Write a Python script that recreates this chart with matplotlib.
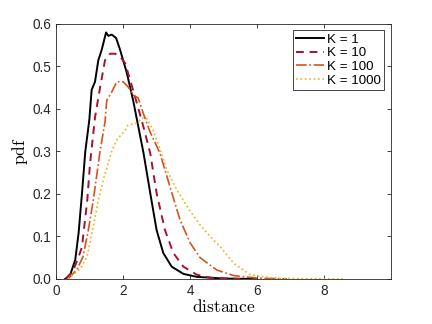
import matplotlib
matplotlib.use('Agg')
import matplotlib.pyplot as plt

plt.rcParams['font.family'] = ['Liberation Sans', 'DejaVu Sans']
plt.rcParams['mathtext.fontset'] = 'cm'

# K = 1
x_k1 = [0.27, 0.42, 0.57, 0.67, 0.77, 0.87, 0.99, 1.06, 1.16, 1.26, 1.36, 1.49, 1.56, 1.66,
        1.79, 1.91, 2.11, 2.3, 2.45, 2.61, 2.81, 3.0, 3.2, 3.45, 3.8, 4.2, 5.0, 6.0]
y_k1 = [0.0, 0.01, 0.045, 0.108, 0.2, 0.3, 0.374, 0.445, 0.464, 0.515, 0.539, 0.58, 0.572, 0.575,
        0.567, 0.539, 0.485, 0.42, 0.36, 0.296, 0.202, 0.115, 0.061, 0.029, 0.012, 0.005, 0.001, 0.0]

# K = 10
x_k10 = [0.3, 0.51, 0.66, 0.77, 0.93, 1.01, 1.16, 1.31, 1.46, 1.61, 1.76, 1.91, 2.06, 2.21,
         2.41, 2.6, 2.81, 3.0, 3.25, 3.5, 3.8, 4.2, 4.6, 5.5]
y_k10 = [0.0, 0.02, 0.05, 0.075, 0.186, 0.27, 0.38, 0.45, 0.515, 0.53, 0.53, 0.523, 0.508, 0.468,
         0.414, 0.36, 0.296, 0.202, 0.115, 0.061, 0.029, 0.01, 0.003, 0.0]

# K = 100
x_k100 = [0.35, 0.62, 0.8, 0.95, 1.11, 1.31, 1.46, 1.51, 1.66, 1.81, 2.0, 2.15, 2.3, 2.45, 2.6,
          2.81, 3.1, 3.4, 3.7, 4.0, 4.3, 4.8, 5.3, 6.0, 6.9]
y_k100 = [0.0, 0.022, 0.052, 0.11, 0.186, 0.3, 0.37, 0.42, 0.44, 0.464, 0.464, 0.452, 0.433, 0.426,
          0.39, 0.345, 0.296, 0.217, 0.139, 0.085, 0.05, 0.021, 0.008, 0.002, 0.0]

# K = 1000
x_k1000 = [0.35, 0.72, 0.92, 1.1, 1.26, 1.45, 1.66, 1.81, 2.06, 2.15, 2.41, 2.56, 2.7, 2.9, 3.1,
           3.3, 3.6, 4.0, 4.3, 4.6, 4.9, 5.3, 5.8, 6.5, 7.5, 8.6]
y_k1000 = [0.0, 0.024, 0.052, 0.12, 0.186, 0.245, 0.3, 0.327, 0.35, 0.362, 0.367, 0.379, 0.378,
           0.35, 0.305, 0.258, 0.21, 0.16, 0.127, 0.1, 0.076, 0.037, 0.01, 0.002, 0.0005, 0.0]

labels = ['K = 1', 'K = 10', 'K = 100', 'K = 1000']

fig = plt.figure(figsize=(4.32, 3.24), dpi=100)
ax = fig.add_axes([0.13, 0.139, 0.775, 0.787])

ax.plot(x_k1, y_k1, color='black', lw=1.4, ls='-', label=labels[0])
ax.plot(x_k10, y_k10, color=(0.635, 0.078, 0.184), lw=1.4, ls=(0, (4, 3)), label=labels[1])
ax.plot(x_k100, y_k100, color=(0.85, 0.325, 0.098), lw=1.2, ls='-.', label=labels[2])
ax.plot(x_k1000, y_k1000, color=(0.929, 0.694, 0.125), lw=1.2, ls=':', label=labels[3])

ax.set_xlim(0, 10)
ax.set_ylim(0, 0.6)
ax.set_xticks([0, 2, 4, 6, 8])
ax.set_yticks([0, 0.1, 0.2, 0.3, 0.4, 0.5, 0.6])
ax.tick_params(direction='in', top=True, right=True, labelsize=9.8, colors=(0.15, 0.15, 0.15),
               length=3, width=0.6)
for s in ax.spines.values():
    s.set_color((0.15, 0.15, 0.15))
    s.set_linewidth(0.6)

ax.set_xlabel(r'$\mathrm{distance}$', fontsize=12.5, labelpad=0)
ax.set_ylabel(r'$\mathrm{pdf}$', fontsize=12.5, labelpad=2)

leg = ax.legend(loc='upper right', bbox_to_anchor=(0.979, 0.976), fontsize=9.6, fancybox=False,
                framealpha=1, edgecolor=(0.15, 0.15, 0.15), handlelength=2.1,
                handletextpad=0.2, borderpad=0.25, labelspacing=0.1, borderaxespad=0)
leg.get_frame().set_linewidth(0.6)

fig.savefig('out.png')
